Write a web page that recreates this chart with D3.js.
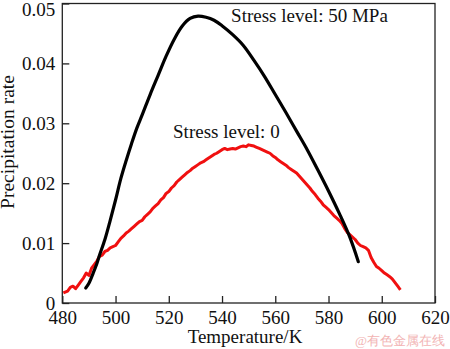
<!DOCTYPE html>
<html><head><meta charset="utf-8">
<script src="https://cdn.jsdelivr.net/npm/d3@7"></script>
<style>body{margin:0;background:#fff}svg{display:block}text{font-family:"Liberation Serif","Times New Roman",serif;}</style>
</head><body>
<script>
const xTicks = [480,500,520,540,560,580,600,620];
const yTicks = [0,0.01,0.02,0.03,0.04,0.05];
const yTickLabels = ["0","0.01","0.02","0.03","0.04","0.05"];
const xTitle = "Temperature/K";
const yTitle = "Precipitation rate";
const seriesNames = ["Stress level: 50 MPa","Stress level: 0"];

const stressT = [488.8,490,491.6,493,494,496,498,500,502,504,506,508,510,513,516,519,522,525,528,531,534,537,540,544,548,552,556,560,564,568,572,576,580,584,588,591.2];
const stressY = [.0025,.0033,.0050,.0066,.0080,.0106,.0138,.0172,.0208,.0238,.0266,.0292,.0314,.0348,.0380,.0412,.0440,.0462,.0475,.0479,.0477,.0472,.0463,.0448,.0430,.0405,.0378,.0348,.0318,.0287,.0256,.0222,.0187,.0150,.0110,.0069];

const zeroT = [480.4,482,483,484,485,486,487,488,489,490,491,492,493,494,495,496,497,498,499,500,501,502,503,504,505,506,507,508,509,510,511,512,513,514,515,516,517,518,519,520,521,522,523,524,525,526,527,528,529,530,531,532,533,534,535,536,537,538,539,540,541,542,543,544,545,546,547,548,549,550,551,552,553,554,555,556,557,558,559,560,561,562,563,564,565,566,567,568,569,570,571,572,573,574,575,576,577,578,579,580,581,582,583,584,585,586,587,588,589,590,591,592,593,594,595,596,597,598,599,600,601,602,603,604,605,606,607];
const zeroY = [.0017,.0020,.0026,.0028,.0024,.0030,.0036,.0042,.0050,.0046,.0058,.0064,.0070,.0078,.0080,.0086,.0088,.0092,.0094,.0096,.0102,.0108,.0112,.0117,.0120,.0124,.0128,.0132,.0136,.0138,.0144,.0148,.0152,.0158,.0162,.0166,.0172,.0176,.0183,.0186,.0192,.0196,.0202,.0206,.0210,.0214,.0218,.0221,.0225,.0228,.0231,.0234,.0236,.0239,.0242,.0245,.0248,.0250,.0253,.0256,.0258,.0256,.0257,.0258,.0257,.0259,.0261,.0262,.0261,.0264,.0263,.0262,.0260,.0258,.0256,.0254,.0252,.0250,.0246,.0243,.0239,.0236,.0233,.0230,.0226,.0223,.0220,.0217,.0212,.0207,.0202,.0197,.0192,.0186,.0181,.0175,.0170,.0164,.0160,.0156,.0151,.0146,.0142,.0138,.0133,.0125,.0118,.0114,.0110,.0106,.0100,.0096,.0094,.0092,.0088,.0076,.0068,.0061,.0058,.0054,.0050,.0047,.0044,.0040,.0034,.0028,.0022];

const W = 450, H = 349;
const m = {l: 62.3, t: 3.5, r: 15, b: 46};
const svg = d3.select("body").append("svg").attr("width", W).attr("height", H);
const x = d3.scaleLinear().domain([480,620]).range([m.l, W - m.r]);
const y = d3.scaleLinear().domain([0,0.05]).range([H - m.b, m.t]);

// frame
svg.append("rect").attr("x", x(480)).attr("y", y(0.05)).attr("width", x(620)-x(480)).attr("height", y(0)-y(0.05))
  .attr("fill","none").attr("stroke","#222").attr("stroke-width",1.3);

// x axis
const xa = svg.append("g").attr("transform", `translate(0,${y(0)})`)
  .call(d3.axisBottom(x).tickValues(xTicks).tickSizeInner(-7).tickSizeOuter(0).tickPadding(8));
xa.select(".domain").remove();
xa.selectAll("line").attr("stroke","#222").attr("stroke-width",1.3);
xa.selectAll("text").attr("font-size",19).attr("fill","#111").attr("font-family","Liberation Serif");

// y axis
const ya = svg.append("g").attr("transform", `translate(${x(480)},0)`)
  .call(d3.axisLeft(y).tickValues(yTicks).tickFormat((d,i)=>yTickLabels[i]).tickSizeInner(-7).tickSizeOuter(0).tickPadding(7));
ya.select(".domain").remove();
ya.selectAll("line").attr("stroke","#222").attr("stroke-width",1.3);
ya.selectAll("text").attr("font-size",19).attr("fill","#111").attr("font-family","Liberation Serif")
  .attr("dy", (d)=> d === 0.05 ? "0.65em" : "0.32em");

// lines
const black = stressT.map((t,i)=>[t, stressY[i]]);
const red = zeroT.map((t,i)=>[t, zeroY[i]]);
svg.append("path").datum(red).attr("d", d3.line().x(d=>x(d[0])).y(d=>y(d[1]))).attr("fill","none")
  .attr("stroke","#f01010").attr("stroke-width",3).attr("stroke-linejoin","round");
svg.append("path").datum(black).attr("d", d3.line().x(d=>x(d[0])).y(d=>y(d[1])).curve(d3.curveCatmullRom)).attr("fill","none")
  .attr("stroke","#000").attr("stroke-width",3.2).attr("stroke-linejoin","round").attr("stroke-linecap","round");

// annotations
svg.append("text").attr("x", x(543.4)).attr("y", 22).attr("font-size",19).attr("fill","#111").text(seriesNames[0]);
svg.append("text").attr("x", x(521.6)).attr("y", 138).attr("font-size",19).attr("fill","#111").text(seriesNames[1]);

// titles
svg.append("text").attr("x", 245).attr("y", 343).attr("text-anchor","middle").attr("font-size",19).attr("fill","#111").text(xTitle);
svg.append("text").attr("transform", `translate(14,${142}) rotate(-90)`).attr("text-anchor","middle").attr("font-size",19.5).attr("fill","#111").text(yTitle);

// watermark
svg.append("text").attr("x", 445).attr("y", 345).attr("text-anchor","end").attr("font-size",13)
  .attr("font-family","Noto Sans CJK SC").attr("fill","#f2b4b4").text("@有色金属在线");
</script>
</body></html>
